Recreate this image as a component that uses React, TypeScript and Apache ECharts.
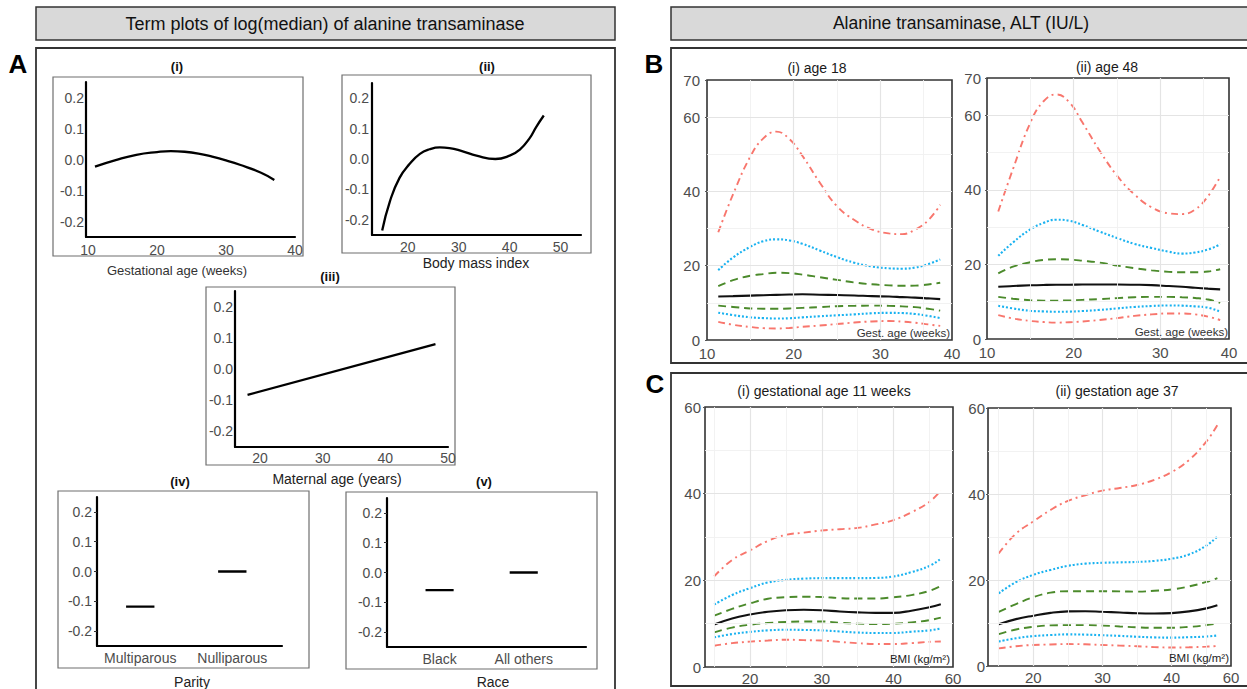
import { useEffect, useRef } from "react";
import * as echarts from "echarts";

const FONT = '"Liberation Sans", Arial, Helvetica, sans-serif';

// ---------------- Panel A : term plots ----------------
const termTicks = [-0.2, -0.1, 0, 0.1, 0.2];
const gestWeeksA = [11, 14, 17, 20, 22, 24, 26, 28, 30, 32, 35, 37];
const gestTermA = [-0.023, -0.002, 0.015, 0.024, 0.027, 0.025, 0.019, 0.009, -0.003, -0.017, -0.042, -0.066];
const bmiA = [15, 16.5, 18.4, 20.4, 22.4, 24.3, 26.3, 28.2, 30.8, 33.5, 37.2, 40, 42, 43.9, 45.2, 46.7];
const bmiTermA = [-0.235, -0.14, -0.062, -0.016, 0.017, 0.032, 0.038, 0.036, 0.025, 0.011, 0.0, 0.011, 0.031, 0.068, 0.105, 0.143];
const matAgeA = [18, 48];
const matAgeTermA = [-0.083, 0.08];
const parityLevels = ["Multiparous", "Nulliparous"];
const parityTerm = [-0.118, 0.0];
const raceLevels = ["Black", "All others"];
const raceTerm = [-0.059, 0.0];
const gestTicksA = [10, 20, 30, 40];
const bmiTicksA = [20, 30, 40, 50];
const ageTicksA = [20, 30, 40, 50];

// ---------------- Panel B : ALT centiles by gestational age ----------------
const weeksB = [11.3, 13, 15, 16.5, 18, 19.5, 21, 23, 25, 27, 29, 31, 32.5, 34, 35.5, 36.9];
const b18RedHi = [29.0, 39.2, 49.4, 54.3, 56.1, 54.1, 49.6, 42.4, 36.0, 32.3, 29.8, 28.7, 28.5, 29.7, 32.2, 36.4];
const b18BlueHi = [18.8, 22.2, 25.1, 26.6, 27.1, 26.8, 25.9, 24.1, 22.3, 20.8, 19.8, 19.3, 19.2, 19.5, 20.4, 21.7];
const b18GreenHi = [14.5, 16.1, 17.3, 17.75, 18.1, 18.0, 17.6, 16.9, 16.2, 15.5, 15.0, 14.7, 14.6, 14.65, 14.95, 15.4];
const b18Median = [11.7, 11.8, 11.95, 12.05, 12.15, 12.25, 12.3, 12.2, 12.1, 12.0, 11.8, 11.7, 11.55, 11.4, 11.2, 11.0];
const b18GreenLo = [9.25, 8.9, 8.5, 8.42, 8.4, 8.5, 8.65, 8.85, 9.1, 9.2, 9.25, 9.2, 9.05, 8.85, 8.4, 7.9];
const b18BlueLo = [7.36, 6.7, 6.1, 5.9, 5.78, 5.85, 6.1, 6.4, 6.65, 6.9, 7.2, 7.3, 7.25, 7.0, 6.5, 5.9];
const b18RedLo = [4.9, 4.1, 3.5, 3.2, 3.1, 3.25, 3.55, 3.9, 4.3, 4.7, 5.0, 5.1, 4.95, 4.65, 4.2, 3.8];

const b48RedHi = [34.2, 45.6, 58.0, 63.7, 65.6, 63.5, 58.1, 50.5, 43.8, 38.8, 35.3, 33.7, 33.5, 34.7, 38.3, 43.5];
const b48BlueHi = [22.3, 25.9, 29.4, 31.1, 32.0, 31.7, 30.6, 28.8, 27.1, 25.5, 24.4, 23.4, 22.9, 23.2, 24.0, 25.4];
const b48GreenHi = [17.6, 19.4, 20.6, 21.2, 21.4, 21.3, 21.0, 20.5, 19.7, 19.0, 18.4, 18.0, 17.9, 17.9, 18.1, 18.7];
const b48Median = [14.0, 14.2, 14.4, 14.5, 14.55, 14.55, 14.6, 14.6, 14.6, 14.55, 14.45, 14.2, 14.0, 13.75, 13.5, 13.3];
const b48GreenLo = [11.3, 10.8, 10.4, 10.3, 10.3, 10.35, 10.5, 10.7, 10.95, 11.2, 11.3, 11.3, 11.2, 11.0, 10.6, 9.7];
const b48BlueLo = [8.9, 8.2, 7.55, 7.4, 7.3, 7.35, 7.5, 7.8, 8.2, 8.6, 8.85, 9.0, 8.95, 8.75, 8.4, 7.3];
const b48RedLo = [6.4, 5.5, 4.85, 4.55, 4.4, 4.5, 4.7, 5.1, 5.6, 6.2, 6.6, 6.85, 6.85, 6.6, 6.0, 5.1];

const gestTicksB = [10, 20, 30];
const gestEdgeLabelB = "40";
const altTicksB = [0, 20, 40, 60, 70];

// ---------------- Panel C : ALT centiles by BMI ----------------
const bmiC = [15, 17.5, 20, 22.5, 25, 27.5, 30, 32.5, 35, 37.5, 40, 42.5, 45, 46.6];
const c11RedHi = [20.9, 24.7, 26.9, 29.1, 30.5, 31.0, 31.5, 31.8, 32.1, 32.9, 33.9, 35.7, 38.1, 40.7];
const c11BlueHi = [14.4, 16.6, 18.2, 19.5, 20.1, 20.4, 20.5, 20.5, 20.5, 20.55, 20.9, 21.9, 23.3, 25.0];
const c11GreenHi = [11.85, 13.4, 14.7, 15.75, 16.1, 16.2, 16.15, 15.9, 15.8, 15.8, 16.1, 16.6, 17.55, 18.7];
const c11Median = [9.8, 11.2, 12.1, 12.75, 13.1, 13.2, 13.1, 12.8, 12.6, 12.5, 12.5, 13.0, 13.8, 14.5];
const c11GreenLo = [8.0, 9.1, 9.75, 10.15, 10.4, 10.5, 10.5, 10.2, 10.0, 9.9, 10.0, 10.3, 10.8, 11.4];
const c11BlueLo = [6.85, 7.6, 8.1, 8.45, 8.6, 8.55, 8.45, 8.2, 7.95, 7.85, 7.85, 8.15, 8.45, 8.9];
const c11RedLo = [4.9, 5.5, 5.85, 6.1, 6.3, 6.2, 6.1, 5.8, 5.5, 5.3, 5.3, 5.5, 5.8, 5.9];

const c37RedHi = [26.2, 30.8, 33.6, 36.3, 38.4, 39.7, 40.8, 41.4, 42.1, 43.3, 45.1, 47.9, 52.2, 56.0];
const c37BlueHi = [16.9, 19.5, 21.2, 22.35, 23.3, 23.8, 24.0, 24.1, 24.2, 24.45, 24.95, 25.95, 28.0, 30.1];
const c37GreenHi = [12.6, 14.4, 16.0, 17.05, 17.4, 17.4, 17.4, 17.35, 17.3, 17.5, 17.8, 18.5, 19.55, 20.45];
const c37Median = [9.7, 10.9, 11.7, 12.35, 12.7, 12.75, 12.6, 12.45, 12.25, 12.2, 12.3, 12.7, 13.4, 14.1];
const c37GreenLo = [7.4, 8.5, 9.1, 9.45, 9.5, 9.5, 9.4, 9.2, 9.0, 8.9, 8.9, 9.1, 9.5, 9.9];
const c37BlueLo = [5.7, 6.45, 6.95, 7.2, 7.35, 7.3, 7.15, 7.0, 6.8, 6.65, 6.6, 6.7, 6.85, 7.1];
const c37RedLo = [4.1, 4.6, 4.9, 5.0, 5.1, 5.05, 4.9, 4.75, 4.6, 4.4, 4.3, 4.35, 4.5, 4.65];

const bmiTicksC = [20, 30, 40];
const bmiEdgeLabelC = "60";
const altTicksC = [0, 20, 40, 60];

// ---------------- styles ----------------
const RED = "#F8766D";
const BLUE = "#1AB2F0";
const GREEN = "#4B8A2B";
const BLACK = "#111111";
const centileStyles = [
  { color: RED, type: [7, 4, 2, 4], width: 1.9 },
  { color: BLUE, type: [2, 2], width: 2.1 },
  { color: GREEN, type: [8, 5], width: 1.9 },
  { color: BLACK, type: "solid", width: 2.1 },
  { color: GREEN, type: [8, 5], width: 1.9 },
  { color: BLUE, type: [2, 2], width: 2.1 },
  { color: RED, type: [7, 4, 2, 4], width: 1.9 },
];

type Layout = { left: number; top: number; width: number; height: number };

export default function App() {
  const ref = useRef<HTMLDivElement>(null);

  useEffect(() => {
    if (!ref.current) return;
    const chart = echarts.init(ref.current, undefined, { renderer: "svg" });

    const grids: any[] = [];
    const xAxes: any[] = [];
    const yAxes: any[] = [];
    const series: any[] = [];

    const tickLabelA = { color: "#4d4d4d", fontSize: 14, fontFamily: FONT };

    // ---- Panel A term-plot grids ----
    const addTermGrid = (
      layout: Layout,
      xMin: number,
      xMax: number,
      xTicks: number[],
      xFormatter: (v: number) => string,
      yMargin: number,
      xMargin: number,
      ticksOn: boolean
    ) => {
      const gi = grids.length;
      grids.push({ ...layout, containLabel: false, show: false });
      xAxes.push({
        type: "value",
        gridIndex: gi,
        min: xMin,
        max: xMax,
        axisLine: { show: true, onZero: false, lineStyle: { color: "#000", width: 2.2 } },
        axisTick: { show: false },
        splitLine: { show: false },
        axisLabel: { ...tickLabelA, margin: xMargin, customValues: xTicks, formatter: xFormatter },
      });
      yAxes.push({
        type: "value",
        gridIndex: gi,
        min: -0.25,
        max: 0.25,
        axisLine: { show: true, onZero: false, lineStyle: { color: "#000", width: 2.2 } },
        axisTick: { show: ticksOn, customValues: termTicks, length: 3, lineStyle: { color: "#333", width: 1 } },
        splitLine: { show: false },
        axisLabel: {
          ...tickLabelA,
          margin: yMargin,
          customValues: termTicks,
          formatter: (v: number) => (Math.abs(v) < 1e-9 ? 0 : v).toFixed(1),
        },
      });
      return gi;
    };

    const termLine = (gi: number, xs: number[], ys: number[], smooth: boolean) => ({
      type: "line",
      xAxisIndex: gi,
      yAxisIndex: gi,
      data: xs.map((x, i) => [x, ys[i]]),
      smooth: smooth ? 0.5 : false,
      symbol: "none",
      silent: true,
      lineStyle: { color: "#000", width: 2.3 },
      z: 3,
    });

    const num = (v: number) => String(v);

    const gA1 = addTermGrid({ left: 86, top: 82, width: 209, height: 155 }, 9.7, 40, gestTicksA, num, 2, 6, false);
    series.push(termLine(gA1, gestWeeksA, gestTermA, true));
    const gA2 = addTermGrid({ left: 372, top: 83, width: 209, height: 152 }, 13, 54, bmiTicksA, num, 3, 5, false);
    series.push(termLine(gA2, bmiA, bmiTermA, true));
    const gA3 = addTermGrid({ left: 235, top: 291, width: 213, height: 156 }, 16, 50, ageTicksA, num, 2, 4, false);
    series.push(termLine(gA3, matAgeA, matAgeTermA, false));

    const levelPos = [1, 2];
    const gA4 = addTermGrid(
      { left: 97, top: 497, width: 185, height: 149 },
      0.53,
      2.54,
      levelPos,
      (v: number) => parityLevels[Math.round(v) - 1] ?? "",
      5,
      5,
      true
    );
    parityTerm.forEach((t, i) => {
      series.push(termLine(gA4, [levelPos[i] - 0.154, levelPos[i] + 0.154], [t, t], false));
    });
    const gA5 = addTermGrid(
      { left: 387, top: 498, width: 199, height: 149 },
      0.375,
      2.74,
      levelPos,
      (v: number) => raceLevels[Math.round(v) - 1] ?? "",
      5,
      5,
      true
    );
    raceTerm.forEach((t, i) => {
      series.push(termLine(gA5, [levelPos[i] - 0.167, levelPos[i] + 0.167], [t, t], false));
    });

    // ---- Panels B and C centile grids ----
    const majorGrid = { color: "#e4e4e4", width: 1.2, type: "solid" };
    const minorGrid = { color: "#f1f1f1", width: 0.9, type: "solid" };

    const addCentileGrid = (
      layout: Layout,
      xMin: number,
      xMax: number,
      xTicks: number[],
      edgeLabel: string,
      yMax: number,
      yTicks: number[],
      yMargin: number,
      xMargin: number,
      xMajor: number[],
      xMinor: number[],
      yMajor: number[],
      yMinor: number[],
      xs: number[],
      curves: number[][]
    ) => {
      const gi = grids.length;
      grids.push({ ...layout, containLabel: false, show: true, borderColor: "#333", borderWidth: 1.6, backgroundColor: "#fff" });
      xAxes.push({
        type: "value",
        gridIndex: gi,
        min: xMin,
        max: xMax,
        axisLine: { show: false, onZero: false },
        axisTick: { show: false },
        splitLine: { show: false },
        axisLabel: {
          color: "#4d4d4d",
          fontSize: 15,
          fontFamily: FONT,
          margin: xMargin,
          customValues: [...xTicks, xMax],
          formatter: (v: number) => (v >= xMax - 1e-6 ? edgeLabel : String(v)),
        },
      });
      yAxes.push({
        type: "value",
        gridIndex: gi,
        min: 0,
        max: yMax,
        axisLine: { show: false, onZero: false },
        axisTick: { show: true, customValues: yTicks, length: 2, lineStyle: { color: "#555", width: 1 } },
        splitLine: { show: false },
        axisLabel: { color: "#4d4d4d", fontSize: 15, fontFamily: FONT, margin: yMargin, customValues: yTicks },
      });
      series.push({
        type: "line",
        xAxisIndex: gi,
        yAxisIndex: gi,
        data: [[xMin, 0]],
        symbol: "none",
        silent: true,
        lineStyle: { width: 0, opacity: 0 },
        z: 1,
        markLine: {
          silent: true,
          symbol: ["none", "none"],
          label: { show: false },
          emphasis: { disabled: true },
          data: [
            ...xMinor.map((v) => ({ xAxis: v, lineStyle: minorGrid })),
            ...yMinor.map((v) => ({ yAxis: v, lineStyle: minorGrid })),
            ...xMajor.map((v) => ({ xAxis: v, lineStyle: majorGrid })),
            ...yMajor.map((v) => ({ yAxis: v, lineStyle: majorGrid })),
          ],
        },
      });
      curves.forEach((ys, k) => {
        const st = centileStyles[k];
        series.push({
          type: "line",
          xAxisIndex: gi,
          yAxisIndex: gi,
          data: xs.map((x, i) => [x, ys[i]]),
          smooth: 0.45,
          symbol: "none",
          silent: true,
          lineStyle: { color: st.color, width: st.width, type: st.type, cap: "butt" },
          z: 3,
        });
      });
    };

    addCentileGrid(
      { left: 707, top: 80, width: 245, height: 260 },
      10, 38.26, gestTicksB, gestEdgeLabelB, 70, altTicksB, 7, 6,
      [20, 30], [15, 25, 35], [20, 40, 60], [10, 30, 50],
      weeksB, [b18RedHi, b18BlueHi, b18GreenHi, b18Median, b18GreenLo, b18BlueLo, b18RedLo]
    );
    addCentileGrid(
      { left: 987, top: 78, width: 242, height: 261 },
      10, 37.92, gestTicksB, gestEdgeLabelB, 70, altTicksB, 6, 6,
      [20, 30], [15, 25, 35], [20, 40, 60], [10, 30, 50],
      weeksB, [b48RedHi, b48BlueHi, b48GreenHi, b48Median, b48GreenLo, b48BlueLo, b48RedLo]
    );
    addCentileGrid(
      { left: 705, top: 407, width: 248, height: 260 },
      13.72, 48.3, bmiTicksC, bmiEdgeLabelC, 60, altTicksC, 4, 4,
      [20, 30, 40], [15, 25, 35, 45], [20, 40], [10, 30, 50],
      bmiC, [c11RedHi, c11BlueHi, c11GreenHi, c11Median, c11GreenLo, c11BlueLo, c11RedLo]
    );
    addCentileGrid(
      { left: 988, top: 408, width: 243, height: 258 },
      13.45, 48.57, bmiTicksC, bmiEdgeLabelC, 60, altTicksC, 3, 4,
      [20, 30, 40], [15, 25, 35, 45], [20, 40], [10, 30, 50],
      bmiC, [c37RedHi, c37BlueHi, c37GreenHi, c37Median, c37GreenLo, c37BlueLo, c37RedLo]
    );

    // ---- static decorations ----
    const txt = (
      text: string,
      x: number,
      y: number,
      size: number,
      opts: { weight?: string; color?: string; align?: string } = {}
    ) => ({
      type: "text",
      x,
      y,
      silent: true,
      z: 10,
      style: {
        text,
        fontSize: size,
        fontFamily: FONT,
        fontWeight: opts.weight ?? "normal",
        fill: opts.color ?? "#222",
        textAlign: opts.align ?? "center",
        textVerticalAlign: "middle",
      },
    });
    const box = (x: number, y: number, w: number, h: number, stroke: string, lw: number, fill = "none") => ({
      type: "rect",
      silent: true,
      z: 0,
      shape: { x, y, width: w, height: h },
      style: { fill, stroke, lineWidth: lw },
    });

    const graphic: any[] = [
      box(36, 7, 579, 33, "#333", 1.5, "#d9d9d9"),
      box(671, 7, 600, 33, "#333", 1.5, "#d9d9d9"),
      box(36, 48, 579, 670, "#333", 1.8),
      box(671, 48, 600, 315, "#333", 1.8),
      box(671, 373, 600, 313, "#333", 1.8),
      txt("Term plots of log(median) of alanine transaminase", 325, 24, 18, { color: "#111" }),
      txt("Alanine transaminase, ALT (IU/L)", 961, 23, 17.5, { color: "#111" }),
      txt("A", 18, 64, 26, { weight: "bold", color: "#000" }),
      txt("B", 654, 64, 26, { weight: "bold", color: "#000" }),
      txt("C", 655, 384, 26, { weight: "bold", color: "#000" }),
      // panel A frames
      box(53, 77, 250, 179, "#6f6f6f", 1.2),
      box(342, 75, 249, 178, "#6f6f6f", 1.2),
      box(206, 287, 249, 178, "#6f6f6f", 1.2),
      box(58, 491, 251, 177, "#6f6f6f", 1.2),
      box(346, 492, 251, 177, "#6f6f6f", 1.2),
      txt("(i)", 177, 66, 13, { weight: "bold", color: "#111" }),
      txt("(ii)", 487, 66, 13, { weight: "bold", color: "#111" }),
      txt("(iii)", 330, 276, 13, { weight: "bold", color: "#111" }),
      txt("(iv)", 180, 481, 13, { weight: "bold", color: "#111" }),
      txt("(v)", 484, 481, 13, { weight: "bold", color: "#111" }),
      txt("Gestational age (weeks)", 177, 270, 13, { color: "#333" }),
      txt("Body mass index", 476, 263, 14, { color: "#222" }),
      txt("Maternal age (years)", 337, 479, 14, { color: "#222" }),
      txt("Parity", 192, 682, 14, { color: "#222" }),
      txt("Race", 493, 682, 14, { color: "#222" }),
      // panel B / C titles
      txt("(i) age 18", 817, 68, 14, { color: "#1a1a1a" }),
      txt("(ii) age 48", 1107, 67, 14, { color: "#1a1a1a" }),
      txt("(i) gestational age 11 weeks", 824, 391, 14, { color: "#1a1a1a" }),
      txt("(ii) gestation age 37", 1117, 391, 14, { color: "#1a1a1a" }),
      txt("Gest. age (weeks)", 950, 333, 11.5, { color: "#333", align: "right" }),
      txt("Gest. age (weeks)", 1228, 332, 11.5, { color: "#333", align: "right" }),
      txt("BMI (kg/m\u00B2)", 950, 659, 11.5, { color: "#222", align: "right" }),
      txt("BMI (kg/m\u00B2)", 1229, 658, 11.5, { color: "#222", align: "right" }),
    ];

    chart.setOption({
      animation: false,
      backgroundColor: "#ffffff",
      textStyle: { fontFamily: FONT },
      grid: grids,
      xAxis: xAxes,
      yAxis: yAxes,
      series,
      graphic,
    });

    return () => chart.dispose();
  }, []);

  return (
    <div
      ref={ref}
      style={{ position: "absolute", left: 0, top: 0, width: 1247, height: 689, background: "#fff" }}
    />
  );
}
